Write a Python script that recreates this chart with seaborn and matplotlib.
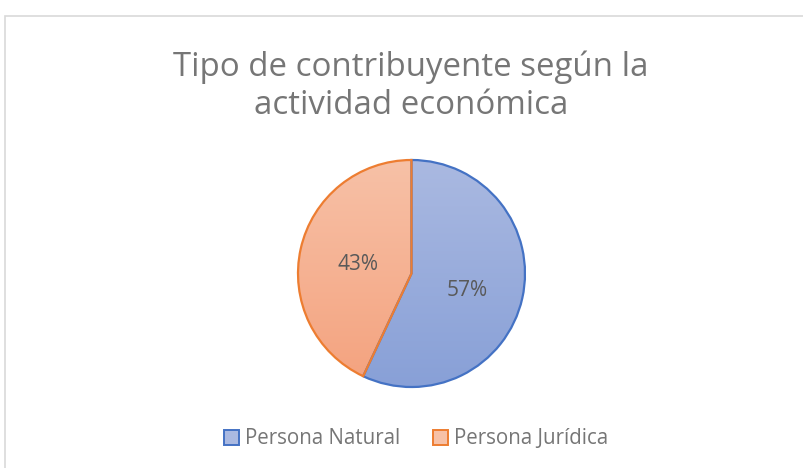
import numpy as np
import matplotlib
matplotlib.use("Agg")
import matplotlib.pyplot as plt
import seaborn as sns
from matplotlib.colors import LinearSegmentedColormap
from matplotlib.patches import Rectangle

sns.set_theme(style="white")
plt.rcParams['font.family'] = ['Open Sans', 'DejaVu Sans']

# Datos
categorias = ['Persona Natural', 'Persona Jurídica']
valores = [57, 43]
etiquetas = ['57%', '43%']
titulo = 'Tipo de contribuyente según la\nactividad económica'

bordes = ['#4472C4', '#ED7D31']
grad_top = ['#AAB9E1', '#F7C1A7']
grad_bot = ['#88A0D7', '#F4A27E']

W, H = 804, 468
fig = plt.figure(figsize=(W / 100, H / 100), dpi=100)
fig.patch.set_facecolor('white')

# marco del grafico (recortado como en la captura)
fig.patches.append(Rectangle((5 / W, -0.1), 1.2, (H - 16) / H + 0.1, transform=fig.transFigure,
                             fill=False, edgecolor='#D9D9D9', linewidth=1.2))

fig.text(411 / W, 1 - 86 / H, titulo, ha='center', va='center', fontsize=23.8,
         color='#767676', linespacing=1.2)

# eje del pie
cx, cy, r = 411.5, 273.5, 113.5
ax = fig.add_axes([(cx - r) / W, (H - cy - r) / H, 2 * r / W, 2 * r / H])
wedges, _ = ax.pie(valores, startangle=90, counterclock=False, radius=1,
                   wedgeprops=dict(linewidth=1.6), labels=None)
ax.set_xlim(-1, 1)
ax.set_ylim(-1, 1)
ax.set_aspect('equal')
ax.axis('off')

grad = np.linspace(0, 1, 256).reshape(-1, 1)
for w, ec, top, bot in zip(wedges, bordes, grad_top, grad_bot):
    cmap = LinearSegmentedColormap.from_list('g', [top, bot])
    w.set_facecolor('none')
    w.set_edgecolor(ec)
    w.set_zorder(3)
    im = ax.imshow(grad, cmap=cmap, extent=[-1, 1, -1, 1], origin='upper',
                   aspect='auto', zorder=1)
    im.set_clip_path(w)

# etiquetas de datos
pos = [(467, 290), (358, 264)]
for (px, py), lab in zip(pos, etiquetas):
    fig.text(px / W, 1 - py / H, lab, ha='center', va='center', fontsize=15, color='#595959')

# leyenda
handles = [Rectangle((0, 0), 1, 1, facecolor=t, edgecolor=e, linewidth=1.4)
           for t, e in zip(grad_top, bordes)]
fig.legend(handles, categorias, loc='center', bbox_to_anchor=(416 / W, 1 - 439 / H),
           ncol=2, frameon=False, fontsize=14.8, labelcolor='#767676',
           handlelength=0.72, handleheight=0.72, handletextpad=0.3, columnspacing=1.6)

fig.savefig('out.png', dpi=100)
